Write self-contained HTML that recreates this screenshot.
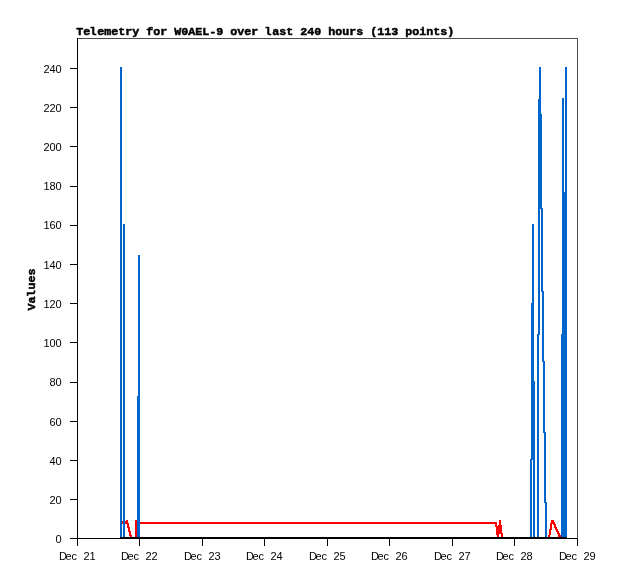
<!DOCTYPE html>
<html><head><meta charset="utf-8"><title>Telemetry</title>
<style>
html,body{margin:0;padding:0;background:#fff;}
svg{display:block;}
.s{font-family:"Liberation Sans",sans-serif;font-size:11px;fill:#000;}
.b{font-family:"Liberation Mono",monospace;font-weight:bold;font-size:11.7px;fill:#000;stroke:#000;stroke-width:0.5px;}
</style></head><body>
<svg width="618" height="579" viewBox="0 0 618 579">
<rect width="618" height="579" fill="#fff"/>
<g shape-rendering="crispEdges">
<rect x="77" y="38" width="501" height="1" fill="#4c4c4c"/>
<rect x="577" y="38" width="1" height="501" fill="#4c4c4c"/>
<rect x="77" y="38" width="1" height="501" fill="#000"/>
<rect x="77" y="538" width="501" height="1" fill="#000"/>
<rect x="70" y="538" width="8" height="1" fill="#000"/>
<rect x="70" y="499" width="8" height="1" fill="#000"/>
<rect x="70" y="460" width="8" height="1" fill="#000"/>
<rect x="70" y="421" width="8" height="1" fill="#000"/>
<rect x="70" y="382" width="8" height="1" fill="#000"/>
<rect x="70" y="342" width="8" height="1" fill="#000"/>
<rect x="70" y="303" width="8" height="1" fill="#000"/>
<rect x="70" y="264" width="8" height="1" fill="#000"/>
<rect x="70" y="225" width="8" height="1" fill="#000"/>
<rect x="70" y="186" width="8" height="1" fill="#000"/>
<rect x="70" y="146" width="8" height="1" fill="#000"/>
<rect x="70" y="107" width="8" height="1" fill="#000"/>
<rect x="70" y="68" width="8" height="1" fill="#000"/>
<rect x="77" y="538" width="1" height="8" fill="#000"/>
<rect x="139" y="538" width="1" height="8" fill="#000"/>
<rect x="202" y="538" width="1" height="8" fill="#000"/>
<rect x="264" y="538" width="1" height="8" fill="#000"/>
<rect x="327" y="538" width="1" height="8" fill="#000"/>
<rect x="389" y="538" width="1" height="8" fill="#000"/>
<rect x="452" y="538" width="1" height="8" fill="#000"/>
<rect x="514" y="538" width="1" height="8" fill="#000"/>
<rect x="577" y="538" width="1" height="8" fill="#000"/>
<rect x="121" y="521" width="7" height="3" fill="#ff0000"/>
<rect x="126" y="520" width="2" height="1" fill="#ff0000"/>
<rect x="127" y="523" width="2" height="5" fill="#ff0000"/>
<rect x="128" y="527" width="2" height="5" fill="#ff0000"/>
<rect x="129" y="531" width="2" height="5" fill="#ff0000"/>
<rect x="130" y="535" width="2" height="3" fill="#ff0000"/>
<rect x="135" y="520" width="2" height="18" fill="#ff0000"/>
<rect x="137" y="522" width="360" height="2" fill="#ff0000"/>
<rect x="495" y="522" width="2" height="5" fill="#ff0000"/>
<rect x="498" y="525" width="4" height="9" fill="#ff0000"/>
<rect x="496" y="526" width="3" height="9" fill="#ff0000"/>
<rect x="499" y="520" width="2" height="5" fill="#ff0000"/>
<rect x="497" y="535" width="2" height="2" fill="#ff0000"/>
<rect x="501" y="533" width="2" height="4" fill="#ff0000"/>
<rect x="551" y="520" width="3" height="2" fill="#ff0000"/>
<rect x="551" y="522" width="4" height="1" fill="#ff0000"/>
<rect x="550" y="523" width="5" height="1" fill="#ff0000"/>
<rect x="550" y="524" width="2" height="6" fill="#ff0000"/>
<rect x="549" y="529" width="2" height="6" fill="#ff0000"/>
<rect x="548" y="535" width="2" height="2" fill="#ff0000"/>
<rect x="554" y="524" width="2" height="3" fill="#ff0000"/>
<rect x="555" y="527" width="2" height="2" fill="#ff0000"/>
<rect x="556" y="529" width="2" height="2" fill="#ff0000"/>
<rect x="557" y="531" width="2" height="2" fill="#ff0000"/>
<rect x="558" y="533" width="2" height="2" fill="#ff0000"/>
<rect x="558" y="535" width="3" height="2" fill="#ff0000"/>
<rect x="553" y="524" width="1" height="1" fill="#ff0000"/>
<rect x="554" y="527" width="1" height="1" fill="#ff0000"/>
<rect x="555" y="529" width="1" height="1" fill="#ff0000"/>
<rect x="556" y="531" width="1" height="1" fill="#ff0000"/>
<rect x="557" y="533" width="1" height="1" fill="#ff0000"/>
<rect x="120" y="67" width="2" height="471" fill="#0066cc"/>
<rect x="123" y="224" width="2" height="314" fill="#0066cc"/>
<rect x="138" y="255" width="2" height="283" fill="#0066cc"/>
<rect x="137" y="396" width="1" height="142" fill="#0066cc"/>
<rect x="530" y="459" width="2" height="79" fill="#0066cc"/>
<rect x="532" y="224" width="2" height="236" fill="#0066cc"/>
<rect x="531" y="303" width="1" height="157" fill="#0066cc"/>
<rect x="534" y="381" width="1" height="157" fill="#0066cc"/>
<rect x="533" y="459" width="1" height="79" fill="#0066cc"/>
<rect x="539" y="67" width="2" height="142" fill="#0066cc"/>
<rect x="538" y="99" width="1" height="236" fill="#0066cc"/>
<rect x="541" y="114" width="1" height="95" fill="#0066cc"/>
<rect x="539" y="208" width="1" height="127" fill="#0066cc"/>
<rect x="537" y="334" width="2" height="204" fill="#0066cc"/>
<rect x="541" y="208" width="2" height="84" fill="#0066cc"/>
<rect x="542" y="291" width="2" height="71" fill="#0066cc"/>
<rect x="543" y="361" width="2" height="72" fill="#0066cc"/>
<rect x="544" y="432" width="2" height="71" fill="#0066cc"/>
<rect x="545" y="502" width="2" height="36" fill="#0066cc"/>
<rect x="565" y="67" width="2" height="471" fill="#0066cc"/>
<rect x="562" y="98" width="2" height="440" fill="#0066cc"/>
<rect x="564" y="192" width="1" height="346" fill="#0066cc"/>
<rect x="561" y="334" width="1" height="204" fill="#0066cc"/>
<rect x="120" y="537" width="447" height="2" fill="#000"/>
</g>
<g>
<text class="s" x="55.5" y="543">0</text>
<text class="s" x="49.5 55.5" y="504">20</text>
<text class="s" x="49.5 55.5" y="465">40</text>
<text class="s" x="49.5 55.5" y="426">60</text>
<text class="s" x="49.5 55.5" y="386">80</text>
<text class="s" x="43.5 49.5 55.5" y="347">100</text>
<text class="s" x="43.5 49.5 55.5" y="308">120</text>
<text class="s" x="43.5 49.5 55.5" y="269">140</text>
<text class="s" x="43.5 49.5 55.5" y="229">160</text>
<text class="s" x="43.5 49.5 55.5" y="190">180</text>
<text class="s" x="43.5 49.5 55.5" y="151">200</text>
<text class="s" x="43.5 49.5 55.5" y="112">220</text>
<text class="s" x="43.5 49.5 55.5" y="73">240</text>
<text class="s" x="59 65.5 71.5 77 83.5 89.5" y="560">Dec 21</text>
<text class="s" x="121 127.5 133.5 139 145.5 151.5" y="560">Dec 22</text>
<text class="s" x="184 190.5 196.5 202 208.5 214.5" y="560">Dec 23</text>
<text class="s" x="246 252.5 258.5 264 270.5 276.5" y="560">Dec 24</text>
<text class="s" x="309 315.5 321.5 327 333.5 339.5" y="560">Dec 25</text>
<text class="s" x="371 377.5 383.5 389 395.5 401.5" y="560">Dec 26</text>
<text class="s" x="434 440.5 446.5 452 458.5 464.5" y="560">Dec 27</text>
<text class="s" x="496 502.5 508.5 514 520.5 526.5" y="560">Dec 28</text>
<text class="s" x="559 565.5 571.5 577 583.5 589.5" y="560">Dec 29</text>
<text class="b" x="76.2 83.2 89.5 97.2 104.2 111.2 118.2 125.2 132.2 139.2 146.2 153.2 160.2 167.2 174.2 181.2 188.2 195.2 202.2 209.2 216.2 223.2 230.2 237.2 244.2 251.2 258.2 264.5 272.2 279.2 286.2 293.2 300.2 307.2 314.2 321.2 328.2 335.2 342.2 349.2 356.2 363.2 370.2 377.2 384.2 391.2 398.2 405.2 412.2 419.2 426.2 433.2 440.2 447.2" y="35">Telemetry for W0AEL-9 over last 240 hours (113 points)</text>
<text class="b" transform="translate(34.6,310.4) rotate(-90)" x="0 7 13.3 21 28 35" y="0">Values</text>
</g>
</svg>
</body></html>
